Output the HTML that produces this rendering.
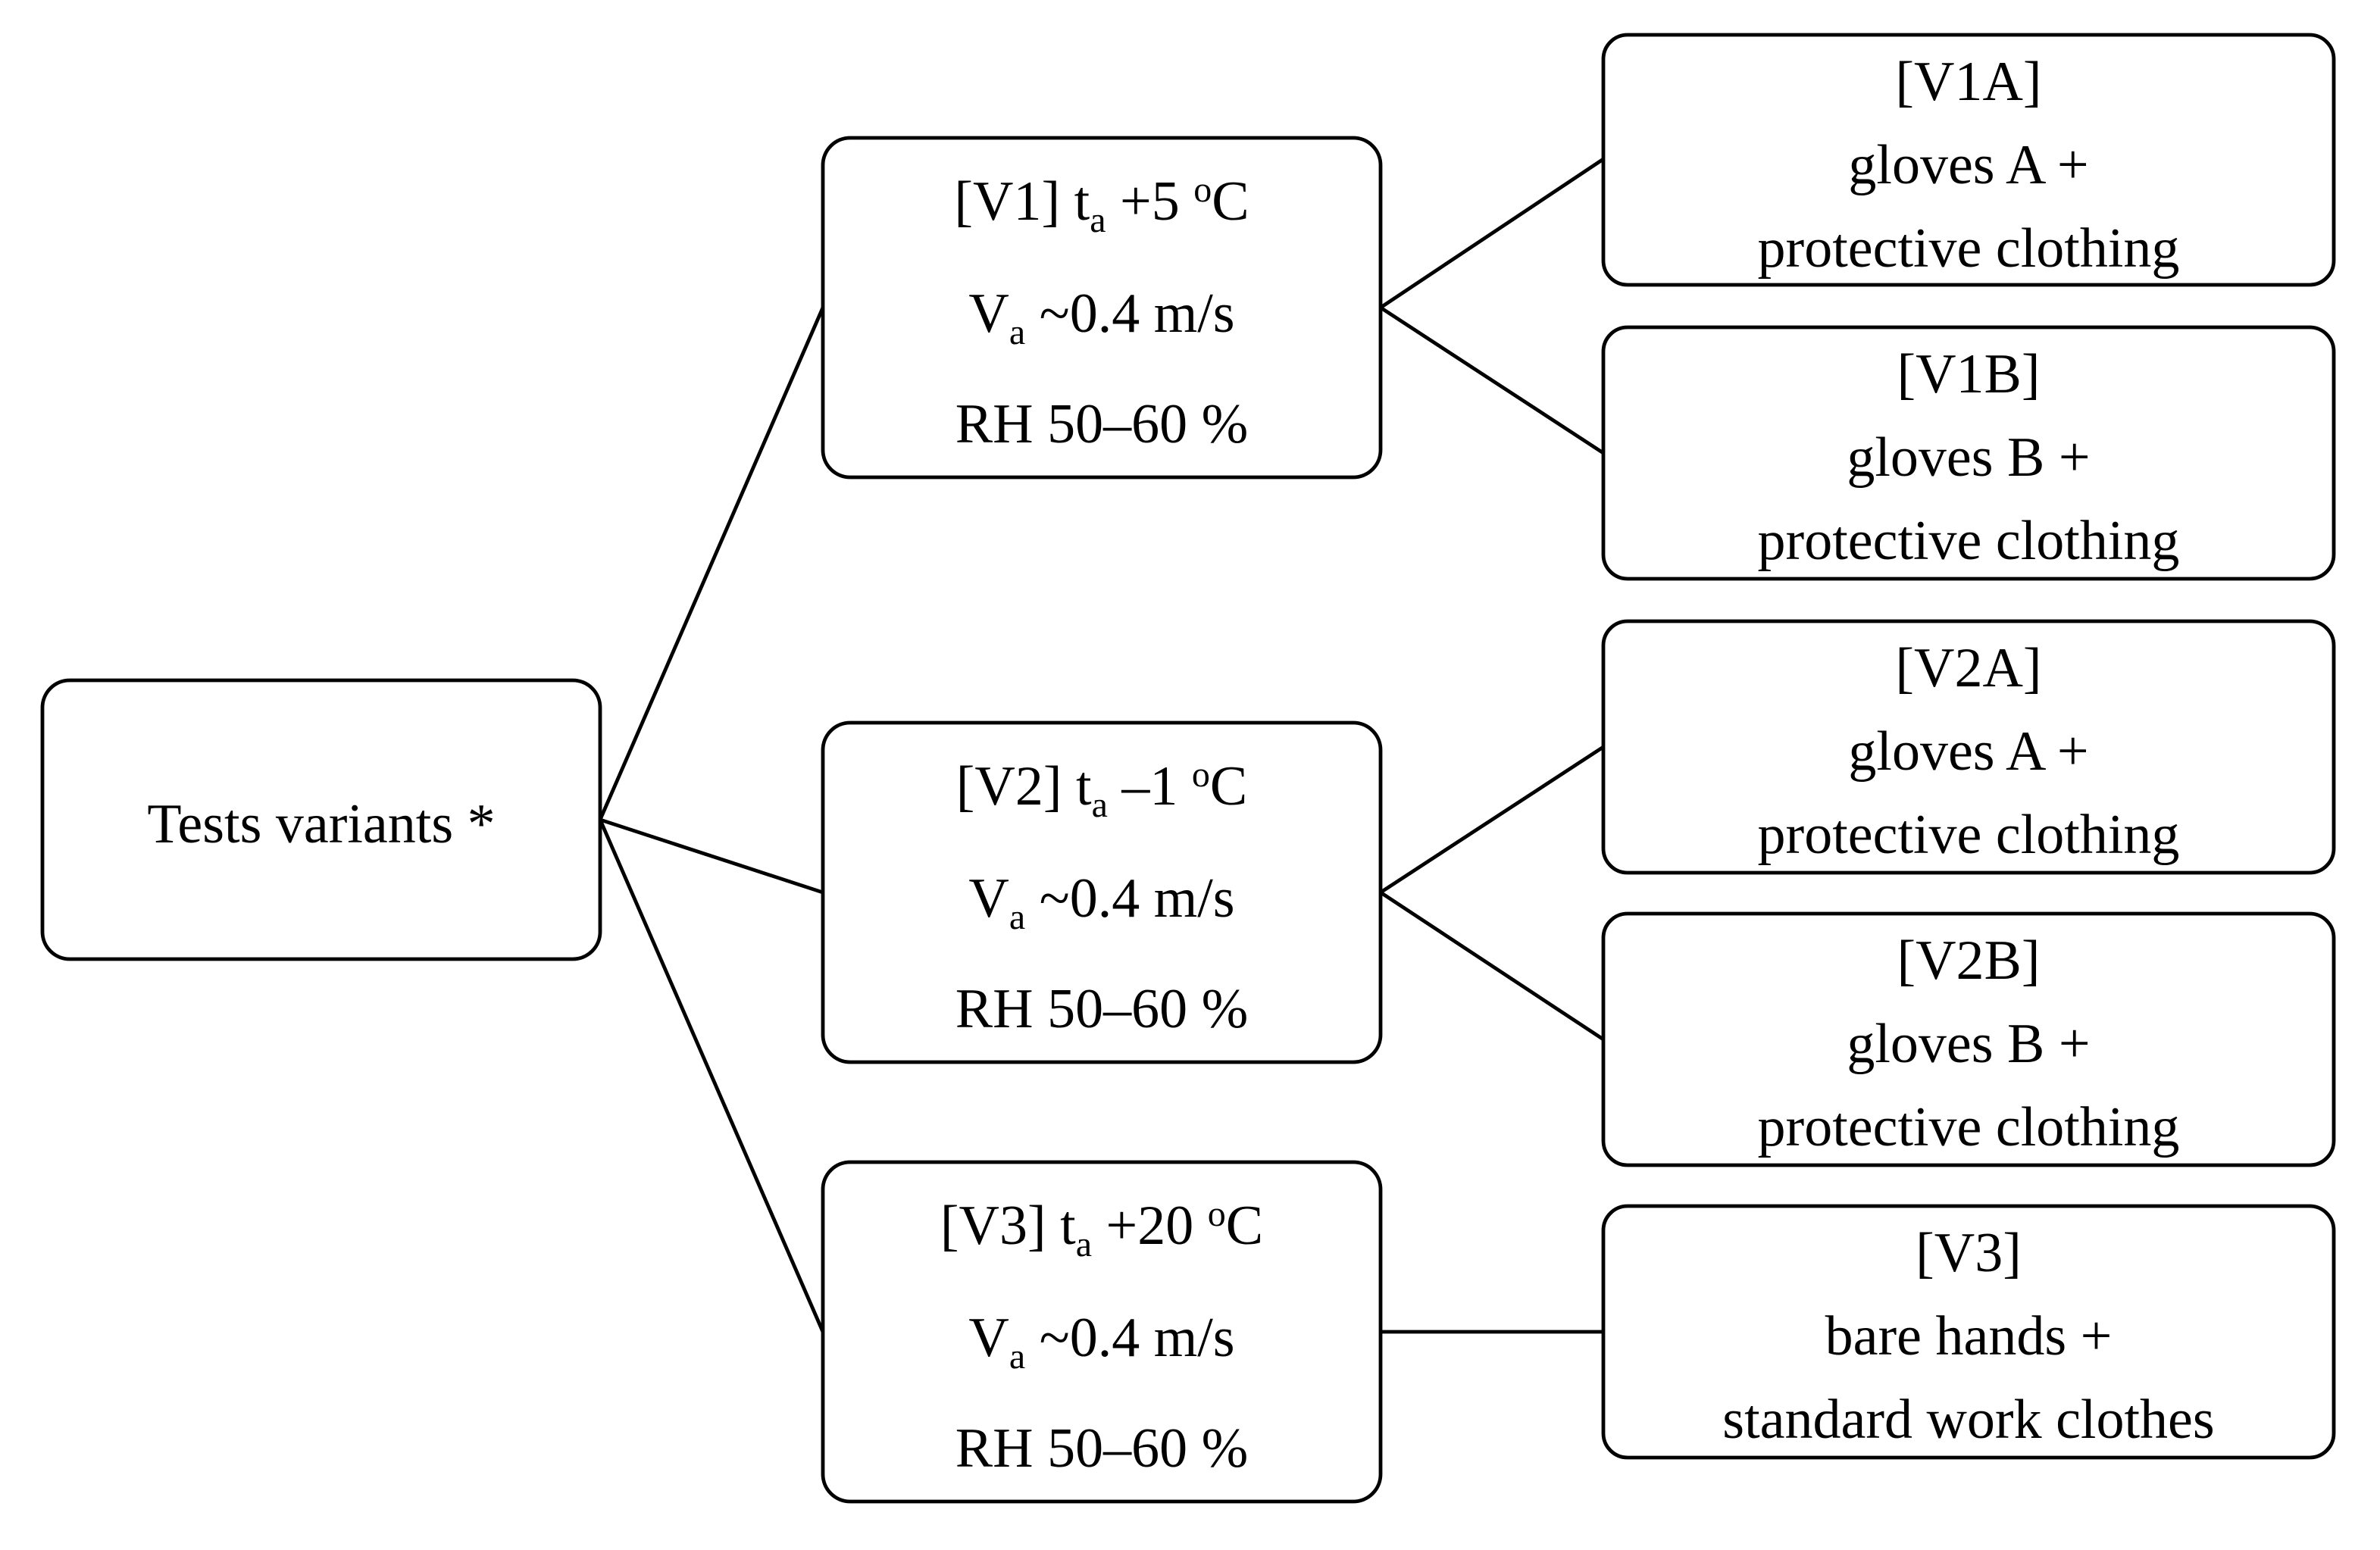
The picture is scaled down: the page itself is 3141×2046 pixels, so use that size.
<!DOCTYPE html>
<html><head><meta charset="utf-8"><style>
html,body{margin:0;padding:0;background:#fff;}
svg{display:block;}
text{font-family:"Liberation Serif",serif;font-size:37px;fill:#000;text-anchor:middle;}
</style></head><body>
<svg width="3141" height="2046" viewBox="0 0 1570.5 1023" xmlns="http://www.w3.org/2000/svg">
<g fill="none" stroke="#000" stroke-width="2.4">
<rect x="28" y="449" width="368" height="184" rx="18"/>
<rect x="543" y="91" width="368" height="224" rx="18"/>
<rect x="543" y="477" width="368" height="224" rx="18"/>
<rect x="543" y="767" width="368" height="224" rx="18"/>
<rect x="1058" y="23" width="482" height="165" rx="16"/>
<rect x="1058" y="216" width="482" height="166" rx="16"/>
<rect x="1058" y="410" width="482" height="166" rx="16"/>
<rect x="1058" y="603" width="482" height="166" rx="16"/>
<rect x="1058" y="796" width="482" height="166" rx="16"/>
<path d="M396 541 L543 203 M396 541 L543 589 M396 541 L543 879 M911 203 L1058 105 M911 203 L1058 299 M911 589 L1058 493 M911 589 L1058 686 M911 879 L1058 879"/>
</g>
<text x="212" y="556">Tests variants *</text>

<text x="727" y="145">[V1] t<tspan font-size="24" dy="8">a</tspan><tspan dy="-8"> +5 </tspan><tspan font-size="24" dy="-12">o</tspan><tspan dy="12">C</tspan></text>
<text x="727" y="219">V<tspan font-size="24" dy="8">a</tspan><tspan dy="-8"> ~0.4 m/s</tspan></text>
<text x="727" y="292">RH 50–60 %</text>

<text x="727" y="531">[V2] t<tspan font-size="24" dy="8">a</tspan><tspan dy="-8"> –1 </tspan><tspan font-size="24" dy="-12">o</tspan><tspan dy="12">C</tspan></text>
<text x="727" y="605">V<tspan font-size="24" dy="8">a</tspan><tspan dy="-8"> ~0.4 m/s</tspan></text>
<text x="727" y="678">RH 50–60 %</text>

<text x="727" y="821">[V3] t<tspan font-size="24" dy="8">a</tspan><tspan dy="-8"> +20 </tspan><tspan font-size="24" dy="-12">o</tspan><tspan dy="12">C</tspan></text>
<text x="727" y="895">V<tspan font-size="24" dy="8">a</tspan><tspan dy="-8"> ~0.4 m/s</tspan></text>
<text x="727" y="968">RH 50–60 %</text>

<text x="1299" y="66">[V1A]</text>
<text x="1299" y="121">gloves A +</text>
<text x="1299" y="176">protective clothing</text>

<text x="1299" y="259">[V1B]</text>
<text x="1299" y="314">gloves B +</text>
<text x="1299" y="369">protective clothing</text>

<text x="1299" y="453">[V2A]</text>
<text x="1299" y="508">gloves A +</text>
<text x="1299" y="563">protective clothing</text>

<text x="1299" y="646">[V2B]</text>
<text x="1299" y="701">gloves B +</text>
<text x="1299" y="756">protective clothing</text>

<text x="1299" y="839">[V3]</text>
<text x="1299" y="894">bare hands +</text>
<text x="1299" y="949">standard work clothes</text>
</svg>
</body></html>
